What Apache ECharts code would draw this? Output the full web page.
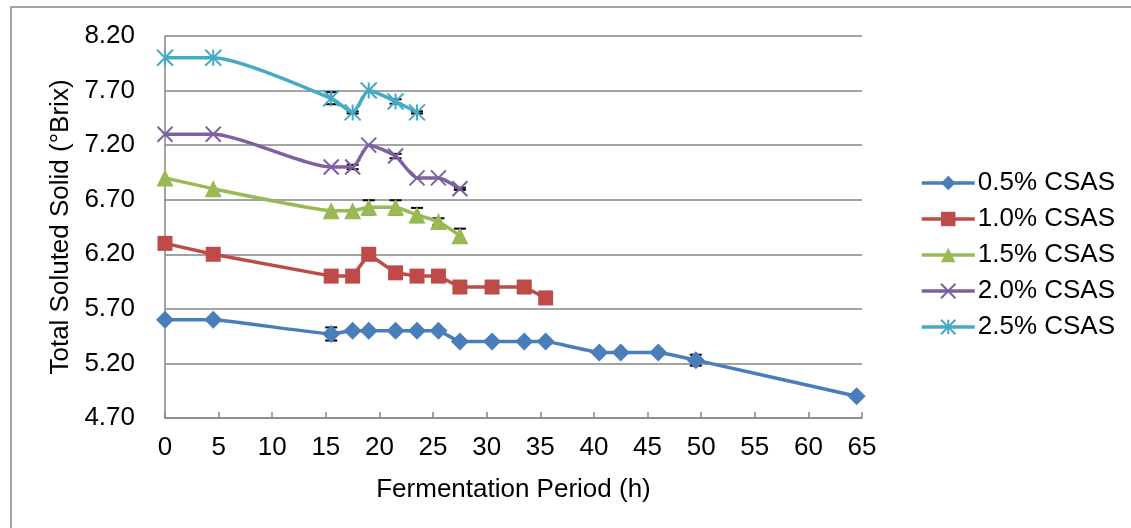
<!DOCTYPE html>
<html>
<head>
<meta charset="utf-8">
<script src="https://cdn.jsdelivr.net/npm/echarts@6/dist/echarts.min.js"></script>
<style>
  html, body { margin: 0; padding: 0; background: #fff; }
  #chart { width: 1131px; height: 528px; }
</style>
</head>
<body>
<div id="chart"></div>
<script>
// Total soluted solid over fermentation time, one line per CSAS dose
const seriesNames = ['0.5% CSAS', '1.0% CSAS', '1.5% CSAS', '2.0% CSAS', '2.5% CSAS'];

const hours05 = [0, 4.5, 15.5, 17.5, 19, 21.5, 23.5, 25.5, 27.5, 30.5, 33.5, 35.5, 40.5, 42.5, 46, 49.5, 64.5];
const brix05  = [5.6, 5.6, 5.47, 5.5, 5.5, 5.5, 5.5, 5.5, 5.4, 5.4, 5.4, 5.4, 5.3, 5.3, 5.3, 5.23, 4.9];
const err05   = [0, 0, 0.06, 0, 0, 0, 0, 0, 0, 0, 0, 0, 0, 0, 0, 0.05, 0];

const hours10 = [0, 4.5, 15.5, 17.5, 19, 21.5, 23.5, 25.5, 27.5, 30.5, 33.5, 35.5];
const brix10  = [6.3, 6.2, 6.0, 6.0, 6.2, 6.03, 6.0, 6.0, 5.9, 5.9, 5.9, 5.8];
const err10   = [0, 0, 0, 0, 0, 0, 0, 0, 0, 0, 0, 0];

const hours15 = [0, 4.5, 15.5, 17.5, 19, 21.5, 23.5, 25.5, 27.5];
const brix15  = [6.9, 6.8, 6.6, 6.6, 6.63, 6.63, 6.56, 6.5, 6.37];
const err15   = [0, 0, 0, 0, 0.065, 0.065, 0.065, 0.03, 0.065];

const hours20 = [0, 4.5, 15.5, 17.5, 19, 21.5, 23.5, 25.5, 27.5];
const brix20  = [7.3, 7.3, 7.0, 7.0, 7.2, 7.1, 6.9, 6.9, 6.8];
const err20   = [0, 0, 0, 0.02, 0, 0.02, 0, 0, 0.01];

const hours25 = [0, 4.5, 15.5, 17.5, 19, 21.5, 23.5];
const brix25  = [8.0, 8.0, 7.63, 7.5, 7.7, 7.6, 7.5];
const err25   = [0, 0, 0.055, 0.01, 0, 0.02, 0.01];

const yTicks = [4.7, 5.2, 5.7, 6.2, 6.7, 7.2, 7.7, 8.2];

const colors = ['#4a7ebb', '#be4b48', '#98b954', '#7d60a0', '#46aac5'];
const crossPath = 'path://M0,0L10,10M10,0L0,10';
const starPath = 'path://M5,0L5,10M0,0L10,10M10,0L0,10';
const symbols = ['diamond', 'rect', 'triangle', crossPath, starPath];
const symbolSizes = [18, 15, 17, 15, 16];
const smoothness = [0.1, false, 0.12, 0.2, 0.2];

const hoursAll = [hours05, hours10, hours15, hours20, hours25];
const brixAll = [brix05, brix10, brix15, brix20, brix25];
const errAll = [err05, err10, err15, err20, err25];

const chart = echarts.init(document.getElementById('chart'));

const lineSeries = seriesNames.map((name, i) => {
    const stroked = i >= 3;
    return {
        name: name,
        type: 'line',
        data: hoursAll[i].map((h, k) => [h, brixAll[i][k]]),
        smooth: smoothness[i],
        symbol: symbols[i],
        symbolSize: symbolSizes[i],
        showAllSymbol: true,
        lineStyle: { color: colors[i], width: 3.5 },
        itemStyle: stroked
            ? { color: 'transparent', borderColor: colors[i], borderWidth: 2 }
            : { color: colors[i], borderWidth: 0 },
        emphasis: { disabled: true },
        z: 3
    };
});

const errData = [];
errAll.forEach((errs, i) => {
    errs.forEach((e, k) => {
        if (e > 0) errData.push([hoursAll[i][k], brixAll[i][k], e]);
    });
});

const errSeries = {
    type: 'custom',
    silent: true,
    data: errData,
    z: 2,
    renderItem: (params, api) => {
        const x = api.value(0), y = api.value(1), e = api.value(2);
        const top = api.coord([x, y + e]);
        const bot = api.coord([x, y - e]);
        const half = 6;
        const cap = { stroke: '#000', lineWidth: 2 };
        return {
            type: 'group',
            children: [
                { type: 'line', shape: { x1: top[0], y1: top[1], x2: bot[0], y2: bot[1] }, style: { stroke: '#000', lineWidth: 1.5 } },
                { type: 'line', shape: { x1: top[0] - half, y1: top[1], x2: top[0] + half, y2: top[1] }, style: cap },
                { type: 'line', shape: { x1: bot[0] - half, y1: bot[1], x2: bot[0] + half, y2: bot[1] }, style: cap }
            ]
        };
    }
};

const font = 'Liberation Sans, Arial, sans-serif';
const fs = 26;

chart.setOption({
    animation: false,
    backgroundColor: '#fff',
    textStyle: { fontFamily: font },
    graphic: [{
        type: 'rect',
        shape: { x: 11, y: 7, width: 1300, height: 600 },
        style: { fill: 'none', stroke: '#868686', lineWidth: 1.5 },
        silent: true
    }],
    grid: { left: 165, right: 269, top: 36, bottom: 110 },
    legend: {
        orient: 'vertical',
        left: 915,
        top: 165,
        itemWidth: 53,
        itemHeight: 18,
        itemGap: 10,
        data: seriesNames,
        lineStyle: { width: 3.5 },
        textStyle: { fontFamily: font, fontSize: fs, color: '#000', padding: [0, 0, 0, -2] }
    },
    xAxis: {
        type: 'value',
        min: 0,
        max: 65,
        interval: 5,
        name: 'Fermentation Period (h)',
        nameLocation: 'middle',
        nameGap: 59,
        nameTextStyle: { fontFamily: font, fontSize: fs, color: '#000' },
        axisLine: { lineStyle: { color: '#868686', width: 1.5 } },
        axisTick: { show: true, inside: true, length: 6, lineStyle: { color: '#868686', width: 1.5 } },
        axisLabel: { fontFamily: font, fontSize: fs, color: '#000', margin: 17 },
        splitLine: { show: false }
    },
    yAxis: {
        type: 'value',
        min: yTicks[0],
        max: yTicks[yTicks.length - 1],
        interval: 0.5,
        name: 'Total Soluted Solid (°Brix)',
        nameLocation: 'middle',
        nameGap: 91,
        nameTextStyle: { fontFamily: font, fontSize: fs, color: '#000' },
        axisLine: { show: true, lineStyle: { color: '#868686', width: 1.5 } },
        axisTick: { show: false },
        axisLabel: { fontFamily: font, fontSize: fs, color: '#000', margin: 30, formatter: v => v.toFixed(2) },
        splitLine: { show: true, lineStyle: { color: '#868686', width: 1.5 } }
    },
    series: [...lineSeries, errSeries]
});
</script>
</body>
</html>
